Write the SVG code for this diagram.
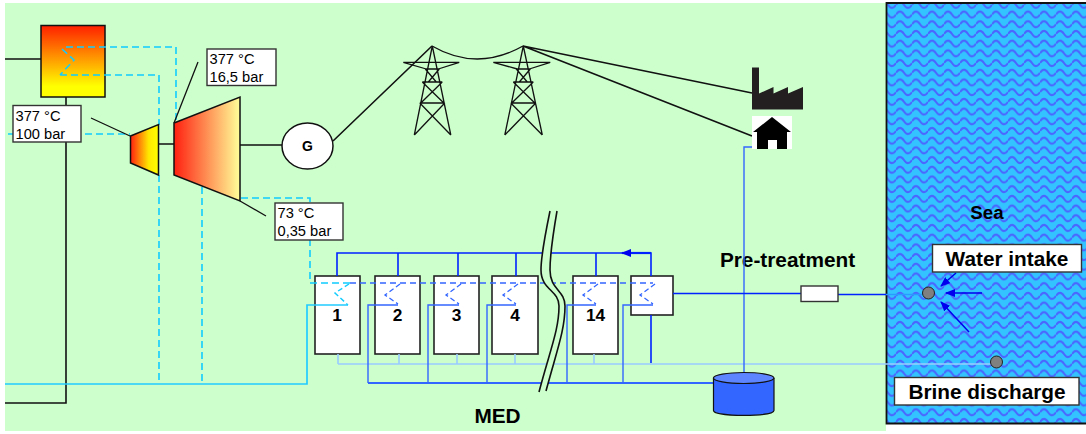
<svg xmlns="http://www.w3.org/2000/svg" width="1086" height="434" viewBox="0 0 1086 434">
<style>
text{font-family:"Liberation Sans",Arial,sans-serif;fill:#000}
.b{font-weight:bold;font-size:20.8px;text-anchor:middle}
.n{font-weight:bold;font-size:17.3px;text-anchor:middle}
.l{font-size:14.67px}
.box{fill:#fff;stroke:#333;stroke-width:1.4}
.cell{fill:#fff;stroke:#222;stroke-width:1.6}
.thin{fill:none;stroke:#111;stroke-width:1.3}
.blk{fill:none;stroke:#111;stroke-width:1.6}
.tw{fill:none;stroke:#111;stroke-width:1.3}
.cy{fill:none;stroke:#22CCFF;stroke-width:1.7}
.cyd{fill:none;stroke:#11CCFF;stroke-width:1.6;stroke-dasharray:7 4}
.cyc{fill:none;stroke:#11CCFF;stroke-width:1.4;stroke-dasharray:5 3}
.bd{fill:none;stroke:#3366FF;stroke-width:1.3;stroke-dasharray:6 4}
.bc{fill:none;stroke:#3366FF;stroke-width:1.3;stroke-dasharray:5 3}
.bs{fill:none;stroke:#3366FF;stroke-width:1.4}
.bb{fill:none;stroke:#3366FF;stroke-width:2}
.dk{fill:none;stroke:#0022FF;stroke-width:1.6}
.lt{fill:none;stroke:#99CCFF;stroke-width:1.6}
.dot{fill:#808080;stroke:#222;stroke-width:1}
</style>
<defs>
<linearGradient id="gB" x1="0" y1="0" x2="0" y2="1"><stop offset="0" stop-color="#FF2000"/><stop offset="0.85" stop-color="#FFFF00"/><stop offset="1" stop-color="#FFFF00"/></linearGradient>
<linearGradient id="gH" x1="0" y1="0" x2="1" y2="0"><stop offset="0" stop-color="#FF2010"/><stop offset="0.65" stop-color="#FFE800"/><stop offset="1" stop-color="#FFFF00"/></linearGradient>
<linearGradient id="gL" x1="0" y1="0" x2="1" y2="0"><stop offset="0" stop-color="#FF2010"/><stop offset="1" stop-color="#FFFF99"/></linearGradient>
<pattern id="waves" width="16" height="9.700" patternUnits="userSpaceOnUse">
<rect width="16" height="9.700" fill="#33C4FF"/>
<path d="M0 4.850C2.500 0.800 5.500 0.800 8 4.850S13.500 8.900 16 4.850" fill="none" stroke="#4A66FF" stroke-width="2"/>
</pattern>
<marker id="ah" markerWidth="10" markerHeight="8" refX="9" refY="4" orient="auto" markerUnits="userSpaceOnUse"><path d="M0 0L10 4L0 8Z" fill="#0000EE"/></marker>
</defs>
<rect id="plant-area" x="5" y="3" width="881" height="428" fill="#CCFFCC"/>
<g id="sea">
<rect x="886.500" y="3" width="200" height="420" fill="url(#waves)"/>
<path d="M886.500 2V423.500H1086M886.500 3H1086" fill="none" stroke="#111" stroke-width="1.800"/>
<text class="b" x="987" y="219" style="font-size:18.700px">Sea</text>
</g>
<g id="boiler">
<rect x="41" y="25.500" width="64" height="71.500" fill="url(#gB)" stroke="#111" stroke-width="1.500"/>
</g>
<text id="pretreatment-label" class="b" x="787.500" y="267">Pre-treatment</text>
<g id="cell-1"><rect class="cell" x="315" y="276" width="45" height="78"/><text class="n" x="337" y="321">1</text></g>
<g id="cell-2"><rect class="cell" x="375" y="276" width="45" height="78"/><text class="n" x="397.500" y="321">2</text></g>
<g id="cell-3"><rect class="cell" x="434" y="276" width="45" height="78"/><text class="n" x="456.500" y="321">3</text></g>
<g id="cell-4"><rect class="cell" x="492" y="276" width="46" height="78"/><text class="n" x="515" y="321">4</text></g>
<g id="cell-14"><rect class="cell" x="573" y="276" width="45" height="78"/><text class="n" x="595.500" y="321">14</text></g>
<g id="condenser"><rect class="cell" x="631" y="276" width="42" height="39"/></g>
<g id="connectors">
<path class="blk" d="M5 59H41M66 97V403H5"/>
<path class="cyd" d="M8 134H130M66 47H176V123M60 75H159V125M159 175V384M202 187V384M241 198H310V283H350M62 49L74 60L60 75"/>
<path class="cyc" d="M349 284L335 293L348 305"/>
<path class="bd" d="M350 283H653"/>
<path class="bc" d="M400 284L385 295L398 304M461 284L446 295L459 304M518 284L503 295L516 304M598 284L583 295L596 304M655 284L640 295L653 304"/>
<path class="cy" d="M5 384H307V305H348"/>
<path class="lt" d="M338 354V364M399 354V364M457 354V364M515 354V364M594 354V364M338 364H991"/>
<path class="bb" d="M368 383H713"/>
<path class="bs" d="M368 383V305H398M428 383V305H459M487 383V305H516M567 383V305H596M623 383V305H653"/>
<path class="bs" d="M760 147H744V372"/>
<path class="dk" d="M337 276V253H651V276M398 253V276M458 253V276M516 253V276M596 253V276M651 315V363"/>
<path d="M651 253H622" stroke="#0022FF" stroke-width="2.200" fill="none" marker-end="url(#ah)"/>
<path class="dk" d="M673 293.500H801M838 294.500H886"/>
<path d="M886 294.500H924" stroke="#2A9AFF" stroke-width="1.600" fill="none"/>
<path d="M982 293H946" stroke="#0000EE" stroke-width="1.500" fill="none" marker-end="url(#ah)"/>
<path d="M969 332L941 302" stroke="#0000EE" stroke-width="1.500" fill="none" marker-end="url(#ah)"/>
<path d="M956 273L941 286" stroke="#0000EE" stroke-width="1.500" fill="none" marker-end="url(#ah)"/>
<path class="blk" d="M158 144H174M240 145H282M333 141L432 46M523 46L752 93M523 46L752 136"/>
<path class="thin" d="M432 46Q477 72 523 46"/>
<path class="thin" d="M198 62L174 123M91 118L130 136M240 201L266 216"/>
</g>
<g id="hp-turbine"><path d="M130.500 136L158.500 124.500V175L130.500 163Z" fill="url(#gH)" stroke="#111" stroke-width="1.500"/></g>
<g id="lp-turbine"><path d="M174 123L240 97V201L174 175Z" fill="url(#gL)" stroke="#111" stroke-width="1.500"/></g>
<g id="generator"><ellipse cx="307.500" cy="146" rx="25.500" ry="23" fill="#fff" stroke="#111" stroke-width="1.500"/><text x="307.500" y="151" text-anchor="middle" font-weight="bold" font-size="14">G</text></g>
<g id="label-hp"><rect class="box" x="13" y="105.500" width="68" height="36.500"/><text class="l" x="15.500" y="120.500">377 °C</text><text class="l" x="15.500" y="139">100 bar</text></g>
<g id="label-lp"><rect class="box" x="207" y="49" width="69" height="36.500"/><text class="l" x="209.500" y="64">377 °C</text><text class="l" x="209.500" y="82">16,5 bar</text></g>
<g id="label-exhaust"><rect class="box" x="275" y="203" width="68" height="37"/><text class="l" x="277.500" y="218">73 °C</text><text class="l" x="277.500" y="236">0,35 bar</text></g>
<g id="tower-1" transform="translate(432.300 46)">
<path class="tw" d="M0 0L-18 89M0 0L18.500 89M-29 16.300H27M-29 16.300L-6 23M27 16.300L6 23M-7 23H7M-7 23L4 36M7 23L-4 36M-10 36H10M-10 36L11.500 57M10 36L-11.500 57M-12.500 57H12.500M-12.500 57L18.500 89M12.500 57L-18 89"/>
</g>
<g id="tower-2" transform="translate(523.300 46)">
<path class="tw" d="M0 0L-18.500 89M0 0L19 89M-30 16.300H27M-30 16.300L-6 23M27 16.300L6 23M-7 23H7M-7 23L4 36M7 23L-4 36M-10 36H10M-10 36L11.500 57M10 36L-11.500 57M-12.500 57H12.500M-12.500 57L19 89M12.500 57L-18.500 89"/>
</g>
<g id="factory"><path d="M752 67.500H759V93.500L773.500 87V93.500L788 87V93.500L803 87V109.500H752Z" fill="#231F20"/></g>
<g id="house">
<rect x="752" y="116" width="40" height="33" fill="#fff"/>
<path d="M772 117L791 132H787V149H777V140H768V149H757V132H753Z" fill="#000"/>
</g>
<g id="tank">
<path d="M713.500 378V410.500C713.500 417 774 417 774 410.500V378" fill="#3366FF" stroke="#111" stroke-width="1.200"/>
<ellipse cx="743.700" cy="378" rx="30.300" ry="5.500" fill="#5C85FF" stroke="#111" stroke-width="1.200"/>
</g>
<g id="filter"><rect class="box" x="801" y="286" width="37" height="15.500"/></g>
<g id="break">
<path d="M550 211C544 240 541 262 541 270C541 290 559 290 559 306C559 330 550 350 539 392L546 391C557 350 565 330 565 306C565 290 550 290 550 270C550 262 552 240 557 211Z" fill="#CCFFCC"/>
<path class="blk" d="M550 211C544 240 541 262 541 270C541 290 559 290 559 306C559 330 550 350 539 392M557 211C552 240 550 262 550 270C550 290 565 290 565 306C565 330 557 350 546 391"/>
</g>
<g id="water-intake"><circle class="dot" cx="928.500" cy="293" r="6"/><rect class="box" x="932.500" y="244.500" width="149" height="27.500"/><text class="b" x="1007" y="266">Water intake</text></g>
<g id="brine-discharge"><circle class="dot" cx="996.500" cy="362" r="6"/><rect class="box" x="894.500" y="377.500" width="184.500" height="27.500"/><text class="b" x="987" y="399">Brine discharge</text></g>
<text id="med-label" class="b" x="497.500" y="423">MED</text>
</svg>
